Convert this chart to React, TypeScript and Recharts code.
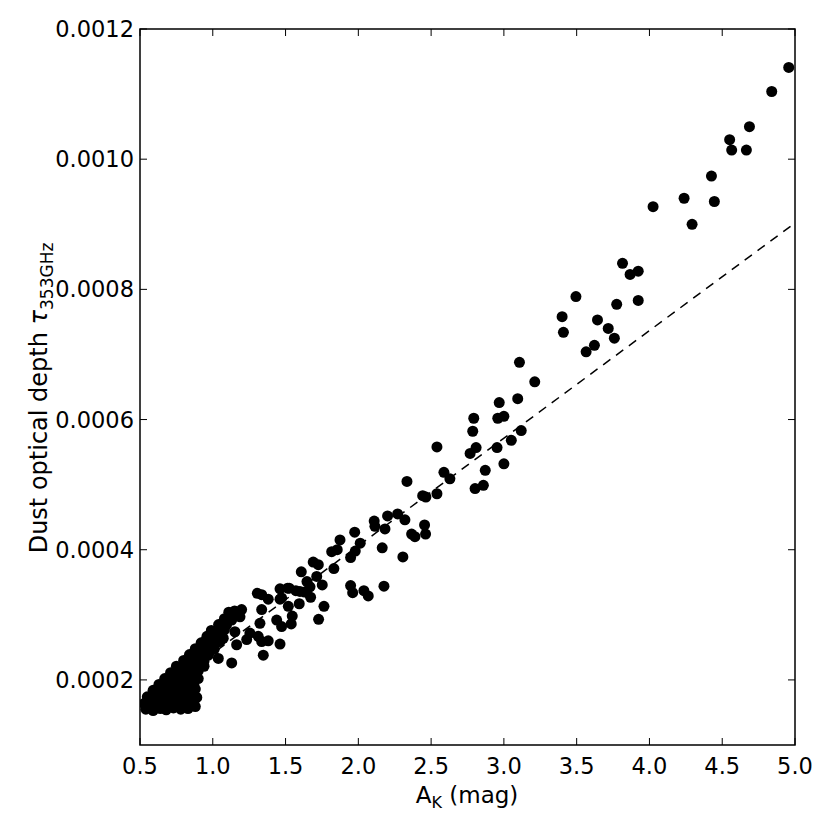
import { ScatterChart, Scatter, XAxis, YAxis, Label, ReferenceArea } from 'recharts';

// tau values are written in units of 1e-4
const TAU_UNIT = 1e-4;

const xTicks = [0.5, 1.0, 1.5, 2.0, 2.5, 3.0, 3.5, 4.0, 4.5, 5.0];
const yTicks = [0.0002, 0.0004, 0.0006, 0.0008, 0.001, 0.0012];

// [A_K, tau] pairs
const denseCore = [
  [0.54, 1.55], [0.59, 1.53], [0.64, 1.56], [0.68, 1.54], [0.73, 1.57], [0.78, 1.55], [0.83, 1.56], [0.88, 1.59],
  [0.53, 1.64], [0.58, 1.67], [0.63, 1.65], [0.68, 1.68], [0.72, 1.66], [0.77, 1.64], [0.82, 1.67], [0.87, 1.65],
  [0.55, 1.74], [0.6, 1.76], [0.65, 1.73], [0.7, 1.77], [0.75, 1.75], [0.8, 1.74], [0.84, 1.76], [0.89, 1.73],
  [0.59, 1.84], [0.64, 1.86], [0.69, 1.83], [0.73, 1.87], [0.78, 1.85], [0.83, 1.84], [0.88, 1.86],
  [0.63, 1.93], [0.68, 1.95], [0.73, 1.94], [0.77, 1.92], [0.82, 1.96], [0.87, 1.93],
  [0.67, 2.02], [0.72, 2.04], [0.77, 2.03], [0.82, 2.01], [0.86, 2.05], [0.9, 2.02],
  [0.71, 2.11], [0.76, 2.13], [0.81, 2.12], [0.86, 2.1], [0.9, 2.14],
  [0.75, 2.21], [0.8, 2.23], [0.85, 2.2], [0.9, 2.24], [0.94, 2.21],
  [0.8, 2.3], [0.84, 2.32], [0.89, 2.31], [0.94, 2.29],
  [0.84, 2.39], [0.88, 2.41], [0.93, 2.4], [0.97, 2.38],
  [0.88, 2.48], [0.93, 2.5], [0.97, 2.49], [1.01, 2.47],
  [0.92, 2.57], [0.97, 2.59], [1.02, 2.56],
  [0.96, 2.67], [1.0, 2.69], [1.05, 2.68],
  [0.99, 2.76], [1.04, 2.78], [1.08, 2.77],
  [1.04, 2.85], [1.08, 2.87],
  [1.08, 2.94], [1.12, 2.96],
  [1.11, 3.04], [1.15, 3.06],
];

const lowBranch = [
  [1.306, 3.33], [1.336, 3.31], [1.381, 3.24], [1.514, 3.41], [1.462, 3.24], [1.336, 3.08],
  [1.519, 3.13], [1.439, 2.92], [1.324, 2.87], [1.255, 2.72], [1.312, 2.67], [1.336, 2.59],
  [1.381, 2.6], [1.347, 2.38], [1.233, 2.62], [1.198, 3.08], [1.187, 2.97], [1.13, 2.92],
  [1.095, 2.85], [1.061, 2.8], [1.152, 2.74], [1.164, 2.54], [1.072, 2.64], [1.049, 2.59],
  [1.003, 2.67], [0.946, 2.59], [0.992, 2.46], [1.038, 2.33], [1.13, 2.26], [0.946, 2.42],
];

const midBranch = [
  [2.201, 4.52], [2.27, 4.55], [2.32, 4.46], [2.109, 4.44], [2.114, 4.36], [2.183, 4.32],
  [1.975, 4.27], [2.455, 4.38], [2.366, 4.24], [2.389, 4.2], [2.462, 4.24], [1.874, 4.15],
  [2.013, 4.1], [2.164, 4.03], [1.817, 3.97], [1.855, 4.0], [1.979, 3.98], [1.947, 3.88],
  [1.69, 3.81], [1.725, 3.77], [1.832, 3.71], [2.306, 3.89], [1.608, 3.66], [1.714, 3.59],
  [1.647, 3.51], [1.525, 3.41], [1.571, 3.37], [1.599, 3.36], [1.631, 3.35], [1.668, 3.43],
  [1.752, 3.46], [1.462, 3.4], [1.672, 3.27], [1.947, 3.45], [1.961, 3.34], [2.038, 3.37],
  [2.068, 3.29], [2.176, 3.44], [1.594, 3.17], [1.764, 3.13], [1.473, 3.26], [1.546, 2.98],
  [1.539, 2.86], [1.473, 2.82], [1.727, 2.93], [1.462, 2.55],
];

const upperBranch = [
  [3.107, 6.88], [3.212, 6.58], [2.968, 6.26], [3.095, 6.32], [2.793, 6.02], [2.958, 6.02],
  [3.0, 6.05], [2.786, 5.82], [3.119, 5.83], [3.051, 5.68], [2.809, 5.57], [2.768, 5.48],
  [2.953, 5.57], [2.872, 5.22], [3.0, 5.32], [2.859, 4.99], [2.802, 4.94], [2.54, 5.58],
  [2.588, 5.19], [2.629, 5.09], [2.334, 5.05], [2.442, 4.83], [2.464, 4.81], [2.54, 4.86],
];

const topBranch = [
  [4.957, 11.41], [4.84, 11.04], [4.687, 10.5], [4.551, 10.3], [4.565, 10.14], [4.666, 10.14],
  [4.426, 9.74], [4.446, 9.35], [4.238, 9.4], [4.293, 9.0], [4.025, 9.27], [3.815, 8.4],
  [3.867, 8.23], [3.923, 8.28], [3.923, 7.83], [3.775, 7.77], [3.495, 7.89], [3.4, 7.58],
  [3.409, 7.34], [3.643, 7.53], [3.717, 7.4], [3.759, 7.25], [3.622, 7.14], [3.565, 7.04],
];

// dashed reference line end points
const fitAK = [0.5, 5.0];
const fitTau = [1.58, 9.02];

const points = [...denseCore, ...lowBranch, ...midBranch, ...upperBranch, ...topBranch].map(
  ([ak, tau]) => ({ ak, tau: tau * TAU_UNIT })
);
const fitLine = fitAK.map((ak, i) => ({ ak, tau: fitTau[i] * TAU_UNIT }));

const FONT = 'DejaVu Sans';
const TICK_LEN = 7;
// plot box inside the svg
const PLOT_TOP = 21;
const PLOT_BOTTOM = 737;
const PLOT_LEFT = 132;
const PLOT_RIGHT = 787;

// matplotlib-style ticks: inward, on both sides
const BottomTick = ({ x, payload }: any) => (
  <g>
    <line x1={x} y1={PLOT_BOTTOM} x2={x} y2={PLOT_BOTTOM - TICK_LEN} stroke="#000" />
    <line x1={x} y1={PLOT_TOP} x2={x} y2={PLOT_TOP + TICK_LEN} stroke="#000" />
    <text x={x} y={PLOT_BOTTOM + 29} textAnchor="middle" fontSize={22.5} fontFamily={FONT} fill="#000">
      {payload.value.toFixed(1)}
    </text>
  </g>
);

const LeftTick = ({ y, payload }: any) => (
  <g>
    <line x1={PLOT_LEFT} y1={y} x2={PLOT_LEFT + TICK_LEN} y2={y} stroke="#000" />
    <line x1={PLOT_RIGHT} y1={y} x2={PLOT_RIGHT - TICK_LEN} y2={y} stroke="#000" />
    <text x={PLOT_LEFT - 6} y={y + 8} textAnchor="end" fontSize={22.5} fontFamily={FONT} fill="#000">
      {payload.value.toFixed(4)}
    </text>
  </g>
);

const XTitle = () => (
  <text x={459} y={795} textAnchor="middle" fontSize={23} fontFamily={FONT} fill="#000">
    <tspan>A</tspan>
    <tspan fontSize={16} dy={5}>K</tspan>
    <tspan dy={-5}> (mag)</tspan>
  </text>
);

const YTitle = () => (
  <text
    transform="translate(39, 390) rotate(-90)"
    textAnchor="middle"
    fontSize={24}
    fontFamily={FONT}
    fill="#000"
  >
    <tspan>Dust optical depth </tspan>
    <tspan fontStyle="italic">τ</tspan>
    <tspan fontSize={17} dy={6}>353GHz</tspan>
  </text>
);

const Dot = ({ cx, cy }: any) => <circle cx={cx} cy={cy} r={5.5} fill="#000" />;

export default function App() {
  return (
    <ScatterChart width={822} height={814} margin={{ top: PLOT_TOP, right: 822 - PLOT_RIGHT, bottom: 0, left: 0 }}>
      <XAxis
        type="number"
        dataKey="ak"
        domain={[0.5, 5]}
        ticks={xTicks}
        interval={0}
        allowDataOverflow
        height={814 - PLOT_BOTTOM}
        tickLine={false}
        axisLine={false}
        tick={(p: any) => <BottomTick {...p} />}
      >
        <Label content={XTitle} />
      </XAxis>
      <YAxis
        type="number"
        dataKey="tau"
        domain={[0.0001, 0.0012]}
        ticks={yTicks}
        interval={0}
        allowDataOverflow
        width={PLOT_LEFT}
        tickLine={false}
        axisLine={false}
        tick={(p: any) => <LeftTick {...p} />}
      >
        <Label content={YTitle} />
      </YAxis>
      <ReferenceArea
        x1={0.5}
        x2={5}
        y1={0.0001}
        y2={0.0012}
        fill="none"
        fillOpacity={0}
        stroke="#000"
        strokeWidth={1.5}
      />
      <Scatter
        data={fitLine}
        line={{ stroke: '#000', strokeWidth: 1.5, strokeDasharray: '9 7' }}
        shape={() => <g />}
        isAnimationActive={false}
      />
      <Scatter data={points} shape={Dot} isAnimationActive={false} />
    </ScatterChart>
  );
}
